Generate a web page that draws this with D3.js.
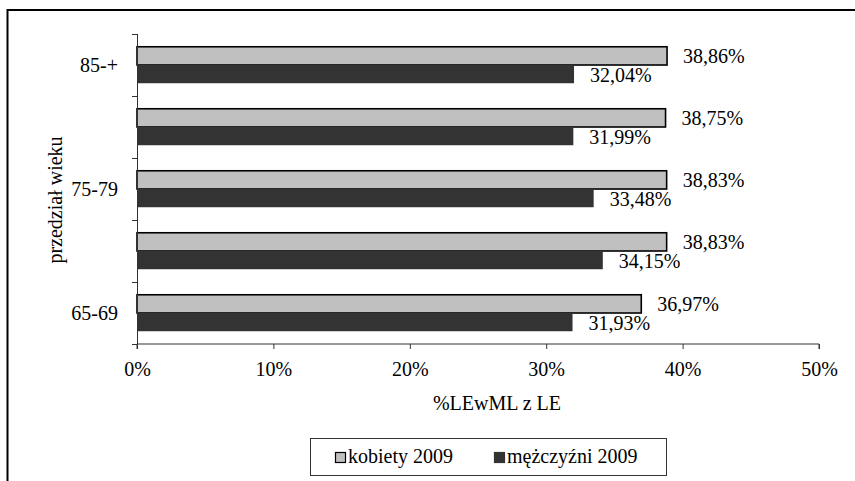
<!DOCTYPE html>
<html>
<head>
<meta charset="utf-8">
<script src="https://cdn.jsdelivr.net/npm/d3@7"></script>
<style>
  html, body { margin: 0; padding: 0; background: #fff; }
  svg { display: block; }
  text { font-family: "Liberation Serif", "Times New Roman", serif; fill: #000; }
</style>
</head>
<body>
<svg id="chart" width="855" height="481"></svg>
<script>
// Age groups (bottom to top as drawn) and share of life expectancy with disability
const categories = ["65-69", "70-74", "75-79", "80-84", "85-+"];
const shownCategoryLabels = ["65-69", "75-79", "85-+"];
const women2009 = [36.97, 38.83, 38.83, 38.75, 38.86];
const men2009 = [31.93, 34.15, 33.48, 31.99, 32.04];
const seriesNames = ["kobiety 2009", "mężczyźni 2009"];
const xTicks = [0, 10, 20, 30, 40, 50];

const fmt = v => v.toFixed(2).replace(".", ",") + "%";

const svg = d3.select("#chart");
const colors = { k: "#c0c0c0", m: "#333333" };

// Outer frame
svg.append("rect")
  .attr("x", 7.5).attr("y", 10)
  .attr("width", 900).attr("height", 600)
  .attr("fill", "none").attr("stroke", "#000").attr("stroke-width", 2);

const plot = { left: 137, right: 819, top: 34, bottom: 344 };

const x = d3.scaleLinear().domain([0, 50]).range([plot.left, plot.right]);
const y = d3.scaleBand()
  .domain(categories)
  .range([plot.bottom, plot.top])
  .paddingInner(0).paddingOuter(0);
const yInner = d3.scaleBand()
  .domain(["k", "m"])
  .range([0, y.bandwidth()])
  .paddingInner(0).paddingOuter(0.7);

const rows = categories.map((c, i) => ({ cat: c, k: women2009[i], m: men2009[i] }));

// Bars
const g = svg.append("g");
rows.forEach(r => {
  ["k", "m"].forEach(key => {
    g.append("rect")
      .attr("x", x(0))
      .attr("y", y(r.cat) + yInner(key))
      .attr("width", x(r[key]) - x(0))
      .attr("height", yInner.bandwidth())
      .attr("fill", colors[key])
      .attr("stroke", key === "k" ? "#000" : "none")
      .attr("stroke-width", key === "k" ? 1.6 : 0);
  });
});
// Value labels
rows.forEach(r => {
  ["k", "m"].forEach(key => {
    g.append("text")
      .attr("x", x(r[key]) + 16)
      .attr("y", y(r.cat) + yInner(key) + yInner.bandwidth() / 2 + 7.5)
      .attr("font-size", 20)
      .text(fmt(r[key]));
  });
});

// X axis
const xAxis = d3.axisBottom(x)
  .tickValues(xTicks)
  .tickSize(5)
  .tickFormat(d => d + "%");
const xg = svg.append("g")
  .attr("transform", `translate(0,${plot.bottom})`)
  .call(xAxis);
xg.select(".domain").attr("stroke", "#333").attr("d", `M${plot.left},5V0H${plot.right}V5`);
xg.selectAll(".tick line").attr("stroke", "#333");
xg.selectAll(".tick text")
  .attr("font-family", "Liberation Serif, Times New Roman, serif")
  .attr("font-size", 20).attr("fill", "#000")
  .attr("dy", null).attr("y", 32);

// Y axis: line with ticks at category boundaries
const boundaries = categories.map(c => y(c) + y.bandwidth()).concat([y(categories[categories.length - 1])]);
svg.append("line")
  .attr("x1", plot.left + 0.5).attr("x2", plot.left + 0.5)
  .attr("y1", plot.top).attr("y2", plot.bottom)
  .attr("stroke", "#333");
boundaries.forEach(b => {
  svg.append("line")
    .attr("x1", plot.left - 5).attr("x2", plot.left)
    .attr("y1", Math.round(b) + 0.5).attr("y2", Math.round(b) + 0.5)
    .attr("stroke", "#333");
});
shownCategoryLabels.forEach(c => {
  svg.append("text")
    .attr("x", 118)
    .attr("y", y(c) + y.bandwidth() / 2 + 7)
    .attr("text-anchor", "end")
    .attr("font-size", 20)
    .text(c);
});

// Axis titles
svg.append("text")
  .attr("x", 497).attr("y", 410)
  .attr("text-anchor", "middle")
  .attr("font-size", 20)
  .text("%LEwML z LE");
svg.append("text")
  .attr("transform", "translate(62,200) rotate(-90)")
  .attr("text-anchor", "middle")
  .attr("font-size", 20)
  .text("przedział wieku");

// Legend
const legend = svg.append("g");
legend.append("rect")
  .attr("x", 310.5).attr("y", 438.5)
  .attr("width", 356).attr("height", 37)
  .attr("fill", "#fff").attr("stroke", "#333").attr("stroke-width", 1);
const legendItems = [
  { key: "k", name: seriesNames[0], sx: 335, tx: 348 },
  { key: "m", name: seriesNames[1], sx: 494, tx: 507 }
];
legendItems.forEach(it => {
  legend.append("rect")
    .attr("x", it.sx + 0.5).attr("y", 452.5)
    .attr("width", 10).attr("height", 10)
    .attr("fill", colors[it.key])
    .attr("stroke", it.key === "k" ? "#000" : colors[it.key])
    .attr("stroke-width", 1.2);
  legend.append("text")
    .attr("x", it.tx).attr("y", 463)
    .attr("font-size", 20)
    .text(it.name);
});
</script>
</body>
</html>
